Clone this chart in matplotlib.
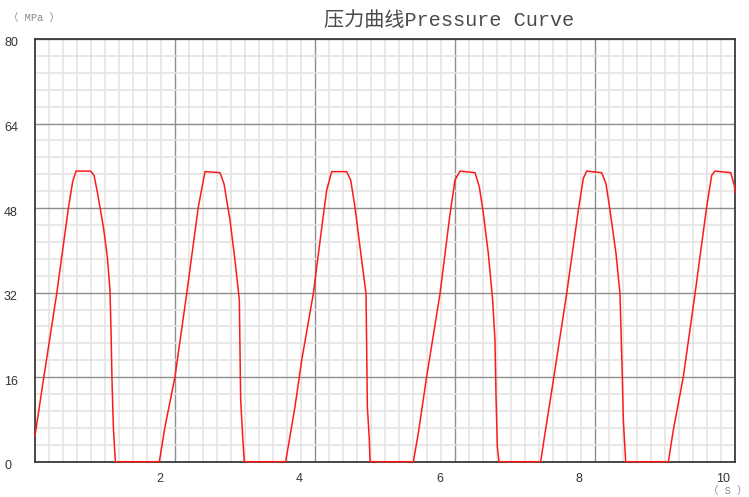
import matplotlib
matplotlib.use("Agg")
import matplotlib.pyplot as plt
from matplotlib.ticker import MultipleLocator
from matplotlib.transforms import ScaledTranslation

# time (s) and pressure (MPa), one row per cycle
time_s = [
    0.0, 0.119, 0.31, 0.476, 0.538, 0.586, 0.795, 0.843, 0.89, 0.976, 1.033, 1.071, 1.086, 1.1, 1.119, 1.148,
    1.776, 1.857, 2.0, 2.167, 2.333, 2.429, 2.643, 2.70, 2.786, 2.857, 2.919, 2.938, 2.967, 2.99,
    3.581, 3.714, 3.81, 3.976, 4.11, 4.167, 4.238, 4.452, 4.51, 4.571, 4.667, 4.729, 4.748, 4.776, 4.786,
    5.405, 5.476, 5.595, 5.786, 5.929, 6.0, 6.071, 6.286, 6.348, 6.405, 6.476, 6.538, 6.571, 6.586, 6.605, 6.629,
    7.224, 7.286, 7.405, 7.595, 7.762, 7.833, 7.881, 7.952, 8.095, 8.157, 8.214, 8.3, 8.357, 8.39, 8.405, 8.438,
    9.048, 9.119, 9.262, 9.429, 9.595, 9.667, 9.714, 9.938, 9.99, 10.0,
]
pressure = [
    4.9, 15.4, 31.8, 47.9, 53.0, 55.0, 55.0, 54.2, 51.1, 44.5, 38.8, 32.5, 24.9, 15.4, 6.6, 0.0,
    0.0, 6.6, 16.1, 31.8, 48.2, 54.9, 54.7, 52.6, 45.7, 38.1, 30.6, 11.7, 4.7, 0.0,
    0.0, 10.4, 19.2, 31.8, 45.7, 51.4, 54.9, 54.9, 53.3, 48.2, 38.1, 31.8, 10.4, 4.1, 0.0,
    0.0, 5.4, 16.1, 31.8, 46.9, 53.3, 55.0, 54.7, 52.0, 47.0, 39.4, 30.6, 23.0, 12.3, 2.8, 0.0,
    0.0, 5.4, 15.4, 31.8, 47.6, 53.6, 55.0, 54.9, 54.7, 52.6, 47.6, 39.4, 31.8, 16.1, 7.9, 0.0,
    0.0, 6.0, 16.1, 31.8, 48.2, 54.2, 55.0, 54.7, 52.3, 51.0,
]

x_ticks = [2, 4, 6, 8, 10]
y_ticks = [0, 16, 32, 48, 64, 80]
title = "压力曲线Pressure Curve"

fig = plt.figure(figsize=(7.49, 4.97), dpi=100)
ax = fig.add_axes([35 / 749, 35.3 / 497, 700 / 749, 422.7 / 497])

ax.plot(time_s, pressure, color="#ff1a1a", lw=1.1, zorder=4, clip_on=False)

ax.set_xlim(0, 10)
ax.set_ylim(0, 80)

ax.xaxis.set_major_locator(MultipleLocator(2))
ax.xaxis.set_minor_locator(MultipleLocator(0.2))
ax.yaxis.set_major_locator(MultipleLocator(16))
ax.yaxis.set_minor_locator(MultipleLocator(3.2))
ax.grid(which="minor", color="#e2e2e2", lw=1.1)
ax.grid(which="major", color="#8e8e8e", lw=1.0)
ax.set_axisbelow(True)

ax.set_xticks(x_ticks)
ax.set_xticklabels([str(v) for v in x_ticks])
ax.set_yticks(y_ticks)
ax.set_yticklabels([str(v) for v in y_ticks])
ax.tick_params(which="both", length=0)
ax.tick_params(axis="x", pad=8, labelsize=9, labelcolor="#333333")
ax.tick_params(axis="y", pad=22.3, labelsize=9, labelcolor="#333333")

for lab in ax.get_xticklabels():
    lab.set_fontfamily("Liberation Sans")
    lab.set_ha("left")
    lab.set_transform(lab.get_transform() + ScaledTranslation(-19 / 100, 0, fig.dpi_scale_trans))
for lab in ax.get_yticklabels():
    lab.set_fontfamily("Liberation Sans")
    lab.set_ha("left")
    lab.set_transform(lab.get_transform() + ScaledTranslation(0, -3 / 100, fig.dpi_scale_trans))

for side in ["left", "right", "top", "bottom"]:
    ax.spines[side].set_color("#3a3a3a")
    ax.spines[side].set_linewidth(1.3)

fig.text(449 / 749, 1 - 21 / 497, title, ha="center", va="center", fontsize=14.5,
         color="#4a4a4a", family=["Liberation Mono", "Noto Sans CJK SC"])
fig.text(8 / 749, 1 - 18 / 497, "（ MPa ）", ha="left", va="center", fontsize=7.5,
         color="#888888", family=["Liberation Mono", "Noto Sans CJK SC"])
fig.text(748 / 749, 1 - 491 / 497, "（ S ）", ha="right", va="center", fontsize=7.5,
         color="#888888", family=["Liberation Mono", "Noto Sans CJK SC"])

fig.savefig("out.png", dpi=100, facecolor="white")
